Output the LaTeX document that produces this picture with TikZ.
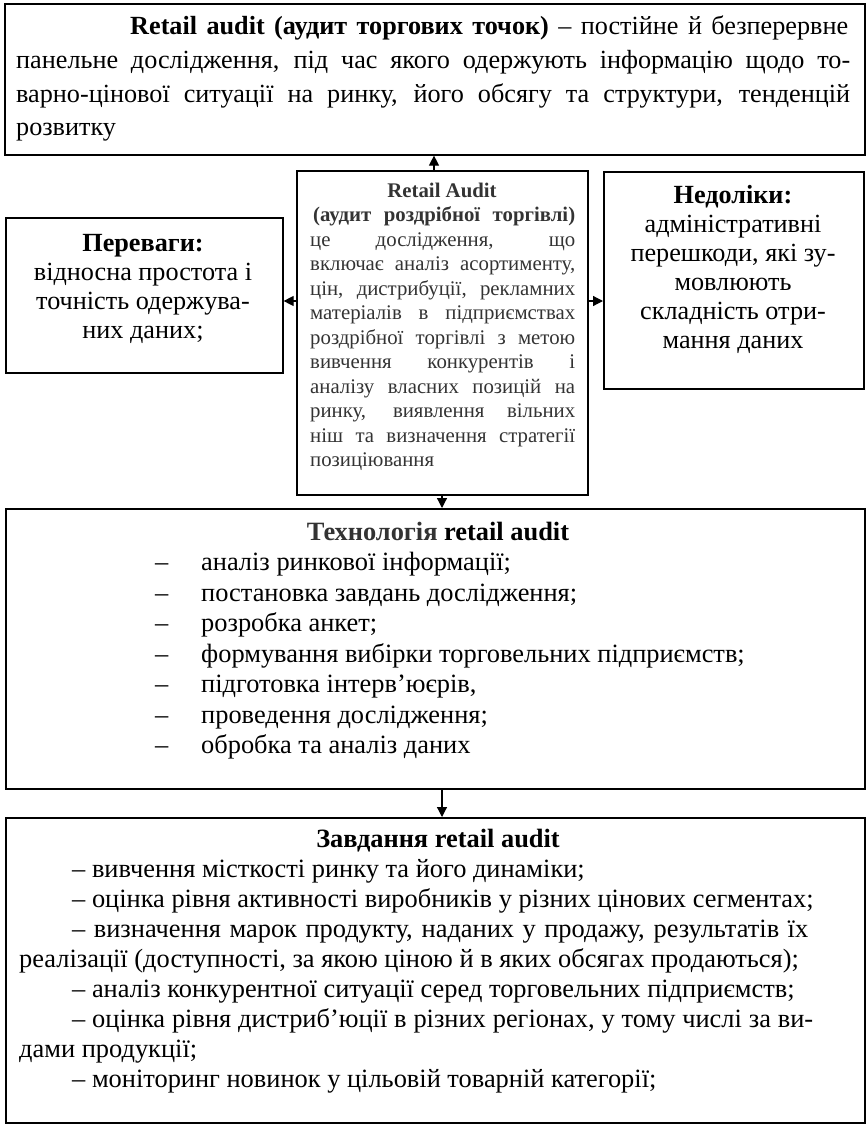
\documentclass[tikz,border=0pt]{standalone}
\usepackage{fontspec}
\setmainfont{Liberation Serif}
\usetikzlibrary{arrows.meta,calc}
\newcommand{\jl}[2]{\hbox to #1pt{#2}}
\begin{document}
\begin{tikzpicture}[x=1pt,y=-1pt,
  box/.style={draw,line width=1.6pt,inner sep=0pt,anchor=north west},
  lt/.style={inner sep=0pt,anchor=base west},
  ct/.style={inner sep=0pt,anchor=base},
  arr/.style={line width=1.2pt,-{Triangle[length=10pt,width=10pt]}},
  fTop/.style={font=\fontsize{26.2}{33}\selectfont},
  fMid/.style={font=\fontsize{20.8}{24}\selectfont,text=black!80},
  fSide/.style={font=\fontsize{26.2}{29}\selectfont},
  fTech/.style={font=\fontsize{26.4}{30}\selectfont},
  fTask/.style={font=\fontsize{26.4}{30}\selectfont}]
\useasboundingbox (0,0) rectangle (867,1124);
% boxes
\node[box,minimum width=860pt,minimum height=151pt] (top) at (4,3) {};
\node[box,minimum width=291pt,minimum height=324pt] (mid) at (296,170) {};
\node[box,minimum width=277pt,minimum height=155pt] (left) at (5,217) {};
\node[box,minimum width=260pt,minimum height=217pt] (right) at (603,171) {};
\node[box,minimum width=859pt,minimum height=280pt] (tech) at (5,508) {};
\node[box,minimum width=859pt,minimum height=305pt] (task) at (5,817) {};
% connectors
\coordinate (ax1) at (434,0);
\coordinate (ay1) at (0,301);
\coordinate (ax2) at (442,0);
\draw[arr] (ax1 |- mid.north) -- (ax1 |- top.south);
\draw[arr] (ay1 -| mid.west) -- (ay1 -| left.east);
\draw[arr] (ay1 -| mid.east) -- (ay1 -| right.west);
\draw[arr] (ax2 |- mid.south) -- (ax2 |- tech.north);
\draw[arr] (ax2 |- tech.south) -- (ax2 |- task.north);
% top box text
\node[lt,fTop] (t1) at (130,35) {\jl{718}{\textbf{Retail audit (аудит торгових точок)} – постійне й безперервне}};
\node[lt,fTop] (t2) at (16,68.5) {\jl{834}{панельне дослідження, під час якого одержують інформацію щодо то-}};
\node[lt,fTop] (t3) at (16,102) {\jl{834}{варно-цінової ситуації на ринку, його обсягу та структури, тенденцій}};
\node[lt,fTop] (t4) at (16,135.5) {розвитку};
% middle box text
\node[ct,fMid] (m1) at (442,197) {\textbf{Retail Audit}};
\node[lt,fMid] (m2) at (313,221.5) {\jl{262}{\textbf{(аудит роздрібної торгівлі)}}};
\node[lt,fMid] (m3) at (310,246) {\jl{265}{це дослідження, що}};
\node[lt,fMid] (m4) at (310,270.5) {\jl{265}{включає аналіз асортименту,}};
\node[lt,fMid] (m5) at (310,295) {\jl{265}{цін, дистрибуції, рекламних}};
\node[lt,fMid] (m6) at (310,319.5) {\jl{265}{матеріалів в підприємствах}};
\node[lt,fMid] (m7) at (310,344) {\jl{265}{роздрібної торгівлі з метою}};
\node[lt,fMid] (m8) at (310,368.5) {\jl{265}{вивчення конкурентів і}};
\node[lt,fMid] (m9) at (310,393) {\jl{265}{аналізу власних позицій на}};
\node[lt,fMid] (m10) at (310,417.5) {\jl{265}{ринку, виявлення вільних}};
\node[lt,fMid] (m11) at (310,442) {\jl{265}{ніш та визначення стратегії}};
\node[lt,fMid] (m12) at (310,466.5) {позиціювання};
% left box text
\node[ct,fSide] (l1) at (143,251) {\textbf{Переваги:}};
\node[ct,fSide] (l2) at (143,280) {відносна простота і};
\node[ct,fSide] (l3) at (143,309) {точність одержува-};
\node[ct,fSide] (l4) at (143,338) {них даних;};
% right box text
\node[ct,fSide] (r1) at (733,203) {\textbf{Недоліки:}};
\node[ct,fSide] (r2) at (733,232) {адміністративні};
\node[ct,fSide] (r3) at (733,261) {перешкоди, які зу-};
\node[ct,fSide] (r4) at (733,290) {мовлюють};
\node[ct,fSide] (r5) at (733,319) {складність отри-};
\node[ct,fSide] (r6) at (733,348) {мання даних};
% technology box text
\node[ct,fTech] (h0) at (438,540) {\textcolor{black!80}{\textbf{Технологія}} \textbf{retail audit}};
\foreach \i/\yy/\tx in {1/570.5/{аналіз ринкової інформації;},
  2/601/{постановка завдань дослідження;},
  3/631.5/{розробка анкет;},
  4/662/{формування вибірки торговельних підприємств;},
  5/692.5/{підготовка інтерв’юєрів,},
  6/723/{проведення дослідження;},
  7/753.5/{обробка та аналіз даних}}{
  \node[lt,fTech] (hd\i) at (155,\yy) {–};
  \node[lt,fTech] (h\i) at (201,\yy) {\tx};
}
% tasks box text
\node[ct,fTask] (z0) at (438,847) {\textbf{Завдання retail audit}};
\node[lt,fTask] (z1) at (72,877) {– вивчення місткості ринку та його динаміки;};
\node[lt,fTask] (z2) at (72,907) {– оцінка рівня активності виробників у різних цінових сегментах;};
\node[lt,fTask] (z3) at (72,937) {\jl{736}{– визначення марок продукту, наданих у продажу, результатів їх}};
\node[lt,fTask] (z4) at (19,967) {реалізації (доступності, за якою ціною й в яких обсягах продаються);};
\node[lt,fTask] (z5) at (72,997) {– аналіз конкурентної ситуації серед торговельних підприємств;};
\node[lt,fTask] (z6) at (72,1027) {\jl{741}{– оцінка рівня дистриб’юції в різних регіонах, у тому числі за ви-}};
\node[lt,fTask] (z7) at (19,1057) {дами продукції;};
\node[lt,fTask] (z8) at (72,1087) {– моніторинг новинок у цільовій товарній категорії;};
\end{tikzpicture}
\end{document}
